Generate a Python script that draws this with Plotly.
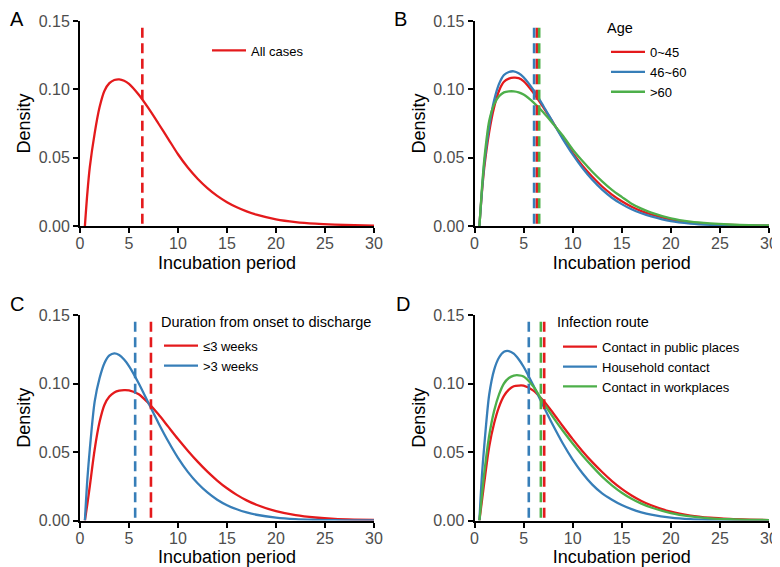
import plotly.graph_objects as go

# ---------------- data ----------------
x_grid = [0.5, 0.75, 1, 1.5, 2, 2.5, 3, 3.5, 4, 4.5, 5, 6, 7, 8, 9, 10, 11, 12, 13, 14,
          15, 16, 17, 18, 20, 22, 24, 26, 28, 30]

# Panel A – all cases
a_all = [0, 0.024, 0.043, 0.068, 0.087, 0.099, 0.1045, 0.1068, 0.1073, 0.1063, 0.104, 0.096,
         0.086, 0.075, 0.0638, 0.0525, 0.0428, 0.0346, 0.0277, 0.022, 0.0174, 0.0137, 0.0107,
         0.0083, 0.0049, 0.0029, 0.0017, 0.001, 0.0006, 0.0003]
a_mean = [6.36]

# Panel B – age
b_names = ["0~45", "46~60", ">60"]
b_0_45 = [0, 0.024, 0.043, 0.069, 0.087, 0.099, 0.1055, 0.1078, 0.1085, 0.1082, 0.106, 0.0975,
          0.087, 0.0757, 0.0643, 0.0535, 0.0441, 0.036, 0.0289, 0.023, 0.0181, 0.0141, 0.0109,
          0.0084, 0.0047, 0.0026, 0.0014, 0.0008, 0.0004, 0.0002]
b_46_60 = [0, 0.025, 0.046, 0.073, 0.092, 0.104, 0.1105, 0.1127, 0.1132, 0.1118, 0.1088, 0.0995,
           0.088, 0.0757, 0.0636, 0.0524, 0.0424, 0.0338, 0.0266, 0.0207, 0.016, 0.0122, 0.0093,
           0.007, 0.0035, 0.0018, 0.0009, 0.0005, 0.0003, 0.0001]
b_60plus = [0, 0.027, 0.049, 0.077, 0.089, 0.095, 0.0978, 0.0985, 0.0985, 0.0978, 0.0962, 0.0905,
            0.0832, 0.0748, 0.066, 0.056, 0.0475, 0.0397, 0.0327, 0.0265, 0.0213, 0.0163, 0.0127,
            0.0098, 0.0056, 0.0032, 0.0019, 0.0011, 0.0006, 0.0004]
b_means = [6.35, 6.07, 6.59]

# Panel C – duration from onset to discharge
c_names = ["\u22643 weeks", ">3 weeks"]
c_le3 = [0, 0.012, 0.025, 0.052, 0.072, 0.0845, 0.0905, 0.0935, 0.0948, 0.0952, 0.095, 0.0922,
         0.0855, 0.0775, 0.0685, 0.0595, 0.051, 0.043, 0.0357, 0.0292, 0.0235, 0.0187, 0.0147,
         0.0115, 0.0068, 0.0039, 0.0022, 0.0012, 0.0007, 0.0004]
c_gt3 = [0, 0.03, 0.052, 0.087, 0.104, 0.115, 0.1205, 0.122, 0.1208, 0.1175, 0.1127, 0.1,
         0.0855, 0.0712, 0.0578, 0.0457, 0.0355, 0.0272, 0.0205, 0.0152, 0.0112, 0.0082, 0.0059,
         0.0042, 0.0021, 0.001, 0.0005, 0.0002, 0.0001, 0.0]
c_means = [7.24, 5.63]

# Panel D – infection route
d_names = ["Contact in public places", "Household contact", "Contact in workplaces"]
d_public = [0, 0.014, 0.028, 0.054, 0.071, 0.083, 0.091, 0.0955, 0.098, 0.0985, 0.0984, 0.0948,
            0.0875, 0.0785, 0.0688, 0.0594, 0.0506, 0.0426, 0.0354, 0.0288, 0.0231, 0.0183, 0.0143,
            0.0111, 0.0064, 0.0036, 0.002, 0.0011, 0.0006, 0.0003]
d_house = [0, 0.032, 0.055, 0.092, 0.11, 0.119, 0.1232, 0.1237, 0.1218, 0.1177, 0.1122, 0.0985,
           0.0838, 0.0695, 0.0562, 0.0445, 0.0345, 0.0262, 0.0198, 0.0152, 0.0113, 0.0083, 0.006,
           0.0043, 0.0021, 0.001, 0.0005, 0.0002, 0.0001, 0.0]
d_work = [0, 0.018, 0.035, 0.062, 0.08, 0.092, 0.1, 0.104, 0.1058, 0.106, 0.1052, 0.0978,
          0.0862, 0.0755, 0.0655, 0.0562, 0.0475, 0.0395, 0.032, 0.0257, 0.0203, 0.0159, 0.0123,
          0.0095, 0.0054, 0.003, 0.0016, 0.0009, 0.0005, 0.0003]
d_means = [7.1, 5.53, 6.76]

x_ticks = [0, 5, 10, 15, 20, 25, 30]
y_ticks = [0, 0.05, 0.10, 0.15]
y_ticktext = ["0.00", "0.05", "0.10", "0.15"]
dash_top = 0.145
legend_titles = ["Age", "Duration from onset to discharge", "Infection route"]

RED, BLUE, GREEN = "#E41A1C", "#377EB8", "#4DAF4A"
FONT = "Liberation Sans, Arial, sans-serif"

fig = go.Figure()

panels = [
    ("x", "y", "legend", [("All cases", a_all)], a_mean, [RED]),
    ("x2", "y2", "legend2", list(zip(b_names, [b_0_45, b_46_60, b_60plus])), b_means, [RED, BLUE, GREEN]),
    ("x3", "y3", "legend3", list(zip(c_names, [c_le3, c_gt3])), c_means, [RED, BLUE]),
    ("x4", "y4", "legend4", list(zip(d_names, [d_public, d_house, d_work])), d_means, [RED, BLUE, GREEN]),
]

for xa, ya, lg, series, means, cols in panels:
    for (name, vals), col in zip(series, cols):
        fig.add_trace(go.Scatter(x=x_grid, y=vals, mode="lines", name=name,
                                 line=dict(color=col, width=2.3, shape="spline", smoothing=0.8),
                                 xaxis=xa, yaxis=ya, legend=lg, hoverinfo="skip"))
    for m, col in zip(means, cols):
        fig.add_trace(go.Scatter(x=[m, m], y=[dash_top, 0], mode="lines", showlegend=False,
                                 line=dict(color=col, width=2.6, dash="10px,5.5px"),
                                 xaxis=xa, yaxis=ya, hoverinfo="skip"))

# The page body has an 8px margin, so the figure is sized to fit the window.
W, H = 772, 559
xdom_l = [72 / W, 366 / W]
xdom_r = [466.5 / W, 761 / W]
ydom_t = [1 - 218 / H, 1 - 13 / H]
ydom_b = [1 - 512.5 / H, 1 - 307 / H]

def xax(dom, anchor):
    return dict(domain=dom, anchor=anchor, range=[0, 30], tickvals=x_ticks, automargin=False,
                showline=True, linecolor="black", linewidth=2, ticks="outside", ticklen=5,
                tickwidth=1.6, tickcolor="black", showgrid=False, zeroline=False,
                ticklabelstandoff=-3,
                tickfont=dict(size=16, color="#4D4D4D", family=FONT),
                title=dict(text="Incubation period", font=dict(size=18, color="black", family=FONT),
                           standoff=5))

def yax(dom, anchor):
    return dict(domain=dom, anchor=anchor, range=[0, 0.15], tickvals=y_ticks, ticktext=y_ticktext,
                automargin=False,
                showline=True, linecolor="black", linewidth=2, ticks="outside", ticklen=5,
                tickwidth=1.6, tickcolor="black", showgrid=False, zeroline=False,
                tickfont=dict(size=16, color="#4D4D4D", family=FONT),
                title=dict(text="Density", font=dict(size=18, color="black", family=FONT),
                           standoff=3))

def leg(xpx, ypx):
    return dict(x=xpx / W, y=1 - ypx / H, xanchor="left", yanchor="top",
                bgcolor="rgba(0,0,0,0)", borderwidth=0,
                font=dict(size=13, color="black", family=FONT), itemwidth=34,
                itemclick=False, itemdoubleclick=False)

fig.update_layout(
    width=W, height=H, margin=dict(l=0, r=0, t=0, b=0, autoexpand=False),
    paper_bgcolor="white", plot_bgcolor="white",
    font=dict(family=FONT),
    xaxis=xax(xdom_l, "y"), yaxis=yax(ydom_t, "x"),
    xaxis2=xax(xdom_r, "y2"), yaxis2=yax(ydom_t, "x2"),
    xaxis3=xax(xdom_l, "y3"), yaxis3=yax(ydom_b, "x3"),
    xaxis4=xax(xdom_r, "y4"), yaxis4=yax(ydom_b, "x4"),
    legend=leg(199, 27.5),
    legend2=leg(598, 29),
    legend3=leg(151, 322.7),
    legend4=leg(550, 323.7),
    showlegend=True,
)

# legend titles
for t, px, py in zip(legend_titles, [597, 151, 547], [20, 314, 314]):
    fig.add_annotation(text=t, x=px / W, y=1 - py / H, xref="paper", yref="paper",
                       showarrow=False, xanchor="left", yanchor="middle",
                       font=dict(size=14.5, color="black", family=FONT))

letters = [("A", 8.5, 11.5), ("B", 392, 11.5), ("C", 8.5, 295.5), ("D", 394.5, 295.5)]
for t, px, py in letters:
    fig.add_annotation(text=t, x=px / W, y=1 - py / H, xref="paper", yref="paper",
                       showarrow=False, xanchor="center", yanchor="middle",
                       font=dict(size=20, color="black", family=FONT))

fig.write_html("out.html")
